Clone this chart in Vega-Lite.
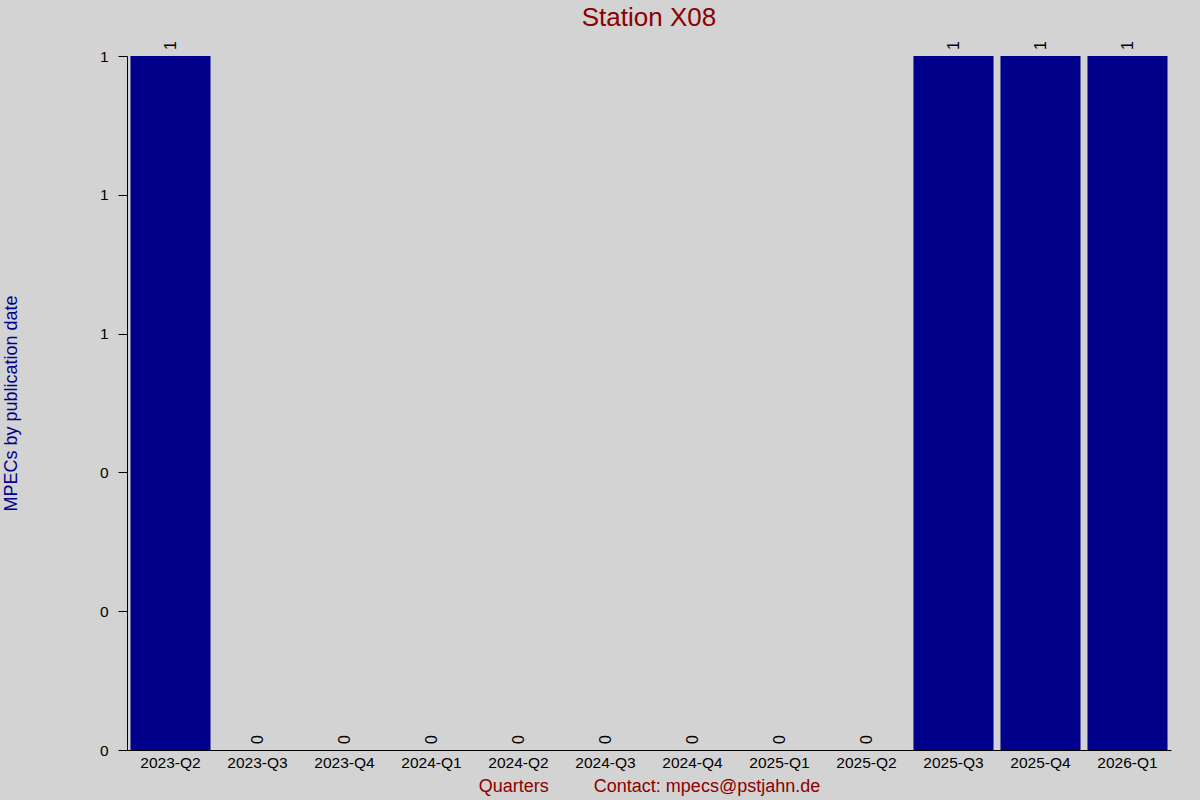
{
  "$schema": "https://vega.github.io/schema/vega-lite/v6.json",
  "width": 1044,
  "height": 694,
  "autosize": "none",
  "padding": {"left": 127, "top": 56, "right": 29, "bottom": 50},
  "background": "#d3d3d3",
  "title": {
    "text": "Station X08",
    "color": "#8b0000",
    "font": "Liberation Sans",
    "fontSize": 26,
    "fontWeight": "normal",
    "anchor": "middle",
    "frame": "group",
    "baseline": "alphabetic",
    "offset": -11
  },
  "data": {
    "values": [
      {"quarter": "2023-Q2", "mpecs": 1},
      {"quarter": "2023-Q3", "mpecs": 0},
      {"quarter": "2023-Q4", "mpecs": 0},
      {"quarter": "2024-Q1", "mpecs": 0},
      {"quarter": "2024-Q2", "mpecs": 0},
      {"quarter": "2024-Q3", "mpecs": 0},
      {"quarter": "2024-Q4", "mpecs": 0},
      {"quarter": "2025-Q1", "mpecs": 0},
      {"quarter": "2025-Q2", "mpecs": 0},
      {"quarter": "2025-Q3", "mpecs": 1},
      {"quarter": "2025-Q4", "mpecs": 1},
      {"quarter": "2026-Q1", "mpecs": 1}
    ]
  },
  "encoding": {
    "x": {
      "field": "quarter",
      "type": "ordinal",
      "sort": null,
      "scale": {"paddingInner": 0.08, "paddingOuter": 0.04},
      "axis": {
        "title": "Quarters\u00a0\u00a0\u00a0\u00a0\u00a0\u00a0\u00a0\u00a0\u00a0Contact: mpecs@pstjahn.de",
        "titleColor": "#8b0000",
        "titleFont": "Liberation Sans",
        "titleFontSize": 18,
        "titleFontWeight": "normal",
        "titleX": 522,
        "titleY": 36,
        "titleAlign": "center",
        "titleBaseline": "middle",
        "labelAngle": 0,
        "labelFont": "Liberation Sans",
        "labelFontSize": 15.5,
        "labelColor": "black",
        "labelPadding": 5,
        "ticks": false,
        "domainColor": "black",
        "grid": false
      }
    },
    "y": {
      "field": "mpecs",
      "type": "quantitative",
      "scale": {"domain": [0, 1], "nice": false},
      "axis": {
        "title": "MPECs by publication date",
        "titleColor": "#00008b",
        "titleFont": "Liberation Sans",
        "titleFontSize": 18,
        "titleFontWeight": "normal",
        "titleAngle": -90,
        "titleX": -116,
        "titleY": 347,
        "titleAlign": "center",
        "titleBaseline": "middle",
        "values": [0, 0.2, 0.4, 0.6, 0.8, 1],
        "format": ".0f",
        "labelFont": "Liberation Sans",
        "labelFontSize": 15.5,
        "labelColor": "black",
        "labelPadding": 10,
        "tickSize": 9,
        "tickColor": "black",
        "domainColor": "black",
        "grid": false
      }
    }
  },
  "layer": [
    {
      "mark": {"type": "bar", "color": "#00008b"}
    },
    {
      "mark": {
        "type": "text",
        "angle": 270,
        "align": "left",
        "baseline": "middle",
        "dx": 6,
        "font": "Liberation Sans",
        "fontSize": 16,
        "color": "black"
      },
      "encoding": {
        "text": {"field": "mpecs", "type": "quantitative", "format": "d"}
      }
    }
  ],
  "config": {"view": {"stroke": null}}
}
